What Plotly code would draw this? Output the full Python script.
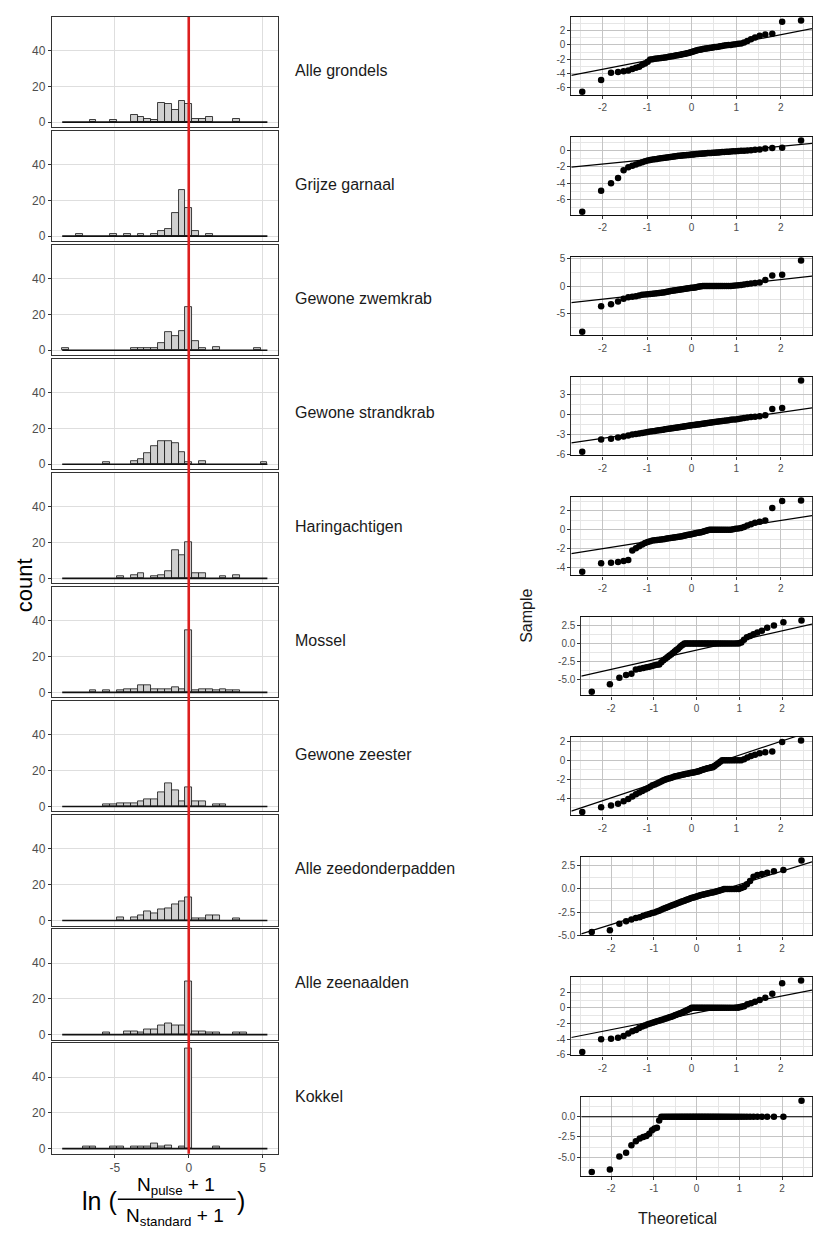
import numpy as np
import plotly.graph_objects as go
from statistics import NormalDist

# ---------------- data (ln((N_pulse+1)/(N_standard+1)) per haul) -------------
species = ["Alle grondels", "Grijze garnaal", "Gewone zwemkrab", "Gewone strandkrab",
           "Haringachtigen", "Mossel", "Gewone zeester", "Alle zeedonderpadden",
           "Alle zeenaalden", "Kokkel"]

grondels = [-6.58, -4.93, -3.9, -3.8, -3.7, -3.6, -3.4, -3.2, -3.05, -2.8, -2.6, -2.35,
            -2.05, -2.0, -1.96, -1.92, -1.88, -1.84, -1.8, -1.76, -1.72, -1.68, -1.64,
            -1.6, -1.55, -1.5, -1.46, -1.42, -1.37, -1.32, -1.28, -1.23, -1.18,
            -1.12, -1.05, -0.98, -0.92, -0.85, -0.78, -0.72,
            -0.67, -0.63, -0.59, -0.55, -0.51, -0.47, -0.43, -0.39, -0.35, -0.31, -0.28, -0.25,
            -0.2, -0.15, -0.1, -0.05, 0.0, 0.0, 0.05, 0.1, 0.15, 0.2,
            0.35, 0.55, 0.8, 1.05, 1.3, 1.45, 1.55, 3.25, 3.43]

garnaal = [-7.52, -4.92, -4.0, -3.35, -2.4,
           -2.05, -1.85, -1.7,
           -1.55, -1.42, -1.3, -1.2,
           -1.14, -1.1, -1.06, -1.02, -0.98, -0.94, -0.9, -0.87, -0.83, -0.8, -0.77, -0.74, -0.71,
           -0.68, -0.66, -0.64, -0.62, -0.6, -0.58, -0.56, -0.54, -0.52, -0.5, -0.48, -0.46, -0.44,
           -0.42, -0.41, -0.39, -0.37, -0.35, -0.34, -0.32, -0.3, -0.29, -0.28, -0.27, -0.25, -0.24,
           -0.22, -0.2, -0.18, -0.16, -0.14, -0.12, -0.1, -0.08, -0.06, -0.04, -0.02, 0.0, 0.02,
           0.06, 0.1, 0.15,
           0.28, 0.32, 0.35, 1.25]

zwemkrab = ([-8.33, -3.7, -3.3, -2.8, -2.3,
             -2.05, -1.95, -1.85, -1.7,
             -1.6, -1.55, -1.5, -1.45, -1.4, -1.35, -1.3, -1.26, -1.22, -1.18,
             -1.12, -1.05, -0.98, -0.92, -0.86, -0.8, -0.75, -0.71,
             -0.67, -0.62, -0.57, -0.53, -0.49, -0.45, -0.41, -0.37, -0.33, -0.29, -0.25,
             -0.2, -0.15, -0.1, -0.05]
            + [0.0] * 16
            + [0.05, 0.1, 0.15, 0.2, 0.28, 0.35, 0.45, 0.55, 0.65, 1.1, 1.9, 2.05, 4.65])

strandkrab = [-5.55, -3.7, -3.6, -3.4, -3.25, -3.1,
              -2.98, -2.9, -2.82, -2.74, -2.66, -2.58,
              -2.52, -2.48, -2.43, -2.38, -2.34, -2.29, -2.24, -2.19, -2.14, -2.1,
              -2.06, -2.02, -1.99, -1.95, -1.92, -1.88, -1.85, -1.81, -1.78, -1.74, -1.71, -1.67, -1.64,
              -1.6, -1.56, -1.53, -1.49, -1.46, -1.42, -1.39, -1.35, -1.32, -1.28, -1.25, -1.21, -1.18,
              -1.14, -1.1, -1.06, -1.02, -0.98, -0.94, -0.9, -0.86, -0.82, -0.78, -0.74, -0.71,
              -0.65, -0.58, -0.5, -0.43, -0.36, -0.3, -0.25,
              -0.1, 0.85, 1.0, 5.09]

haring = ([-4.45, -3.55, -3.5, -3.4, -3.3, -3.2, -2.2, -1.95, -1.75, -1.55, -1.4, -1.3, -1.2,
           -1.14, -1.11, -1.08, -1.05, -1.02, -0.99, -0.96, -0.93, -0.9, -0.87, -0.84, -0.81,
           -0.79, -0.76, -0.74, -0.71,
           -0.67, -0.63, -0.6, -0.56, -0.53, -0.49, -0.46, -0.42, -0.39, -0.35, -0.32, -0.28, -0.25,
           -0.2, -0.15, -0.1, -0.05]
          + [0.0] * 12
          + [0.05, 0.1, 0.15, 0.2, 0.3, 0.45, 0.6, 0.75, 0.85, 1.0, 2.3, 3.05, 3.1])

mossel = ([-6.7, -5.65, -4.75, -4.35, -4.2, -3.6, -3.5, -3.4, -3.3, -3.2, -3.1, -3.0, -2.95,
           -2.9, -2.6, -2.3, -2.1, -1.9, -1.7, -1.5, -1.3, -1.1, -0.9, -0.75, -0.5, -0.3, -0.15]
          + [0.0] * 33
          + [0.15, 0.55, 0.9, 1.05, 1.3, 1.55, 1.8, 2.2, 2.5, 2.95, 3.2])

zeester = ([-5.47, -4.98, -4.8, -4.6, -4.35, -4.1, -3.85, -3.6, -3.4, -3.25, -3.1, -2.95, -2.8,
            -2.65, -2.56, -2.45, -2.35, -2.25, -2.15,
            -2.05, -1.99, -1.93, -1.87, -1.81, -1.75, -1.7, -1.65,
            -1.6, -1.57, -1.53, -1.5, -1.46, -1.43, -1.39, -1.35, -1.32, -1.28, -1.25, -1.21, -1.18,
            -1.12, -1.06, -1.0, -0.95, -0.9, -0.85, -0.8, -0.76, -0.72,
            -0.6, -0.45, -0.3, -0.15]
           + [0.0] * 9
           + [0.12, 0.3, 0.45, 0.6, 0.75, 0.85, 0.95, 1.95, 2.1])

zeedonderpadden = ([-4.64, -4.45, -3.75, -3.5, -3.3, -3.15, -3.05, -2.9, -2.8, -2.7, -2.6, -2.56,
                    -2.45, -2.35, -2.25, -2.15,
                    -2.05, -1.98, -1.9, -1.82, -1.75, -1.68,
                    -1.6, -1.53, -1.47, -1.4, -1.33, -1.27, -1.2,
                    -1.14, -1.08, -1.02, -0.97, -0.92, -0.87, -0.82, -0.77, -0.72,
                    -0.67, -0.63, -0.59, -0.55, -0.51, -0.47, -0.43, -0.39, -0.35, -0.3, -0.25,
                    -0.2, -0.15, -0.1]
                   + [0.0] * 8
                   + [0.1, 0.2, 0.5, 0.85, 1.3, 1.5, 1.6, 1.75, 1.9, 2.05, 3.05])

zeenaalden = ([-5.66, -4.04, -3.96, -3.83, -3.6, -3.3, -3.0, -2.85, -2.6, -2.4, -2.25, -2.1,
               -2.0, -1.9, -1.8, -1.72, -1.64,
               -1.56, -1.48, -1.4, -1.32, -1.25, -1.18,
               -1.1, -1.0, -0.92, -0.84, -0.76,
               -0.68, -0.6, -0.5, -0.4, -0.3,
               -0.2, -0.1]
              + [0.0] * 26
              + [0.1, 0.2, 0.45, 0.6, 0.8, 1.0, 1.3, 1.8, 3.15, 3.5])

kokkel = ([-6.84, -6.54, -4.92, -4.46, -3.54, -3.04, -2.7, -2.5, -2.38, -2.1, -1.67, -1.46,
           -1.35, -0.45]
          + [0.0] * 56
          + [2.0])

samples = [grondels, garnaal, zwemkrab, strandkrab, haring,
           mossel, zeester, zeedonderpadden, zeenaalden, kokkel]

# tick labels
hist_xticks = [-5, 0, 5]
hist_yticks = [0, 20, 40]
qq_xticks = [-2, -1, 0, 1, 2]
qq_yticks = [[-6, -4, -2, 0, 2], [-6, -4, -2, 0], [-5, 0, 5], [-6, -3, 0, 3], [-4, -2, 0, 2],
             [-5, -2.5, 0, 2.5], [-4, -2, 0, 2], [-5, -2.5, 0, 2.5], [-6, -4, -2, 0, 2],
             [-5, -2.5, 0]]
qq_ylabels = [["-6", "-4", "-2", "0", "2"], ["-6", "-4", "-2", "0"], ["-5", "0", "5"],
              ["-6", "-3", "0", "3"], ["-4", "-2", "0", "2"], ["-5.0", "-2.5", "0.0", "2.5"],
              ["-4", "-2", "0", "2"], ["-5.0", "-2.5", "0.0", "2.5"], ["-6", "-4", "-2", "0", "2"],
              ["-5.0", "-2.5", "0.0"]]

# ---------------- layout helpers -------------
W, H = 813, 1236
FONT = "Liberation Sans, Arial, Helvetica, sans-serif"
TICKGREY = "#4d4d4d"


def px(x):
    return x / W


def py(y):
    return 1 - y / H


def ref(prefix, n):
    return prefix if n == 1 else f"{prefix}{n}"


def key(prefix, n):
    return prefix if n == 1 else f"{prefix}{n}"


# histogram bins like ggplot's default (30 bins spanning the shared data range)
allv = np.concatenate([np.asarray(s, float) for s in samples])
lo, hi = float(allv.min()), float(allv.max())
bw = (hi - lo) / 29
bstart, bend = lo - bw / 2, hi + bw / 2
edges = bstart + bw * np.arange(31)
cmax = max(np.histogram(np.asarray(s, float), bins=edges)[0].max() for s in samples)
xpad = 0.05 * (bend - bstart)
hist_xrange = [bstart - xpad, bend + xpad]
hist_yrange = [-0.05 * cmax, 1.05 * cmax]

fig = go.Figure()
layout = dict(width=W, height=H, margin=dict(l=0, r=0, t=0, b=0),
              paper_bgcolor="white", plot_bgcolor="white", showlegend=False,
              bargap=0, font=dict(family=FONT, color="#1a1a1a"))
annotations = []
shapes = []

H_TOP0, H_PITCH, H_HEIGHT = 13, 114.9, 111
Q_TOP0, Q_PITCH, Q_HEIGHT = 13, 120.9, 79
qq_left = [572, 572, 572, 572, 572, 582, 572, 582, 572, 582]

nd = NormalDist()

for j, (name, vals) in enumerate(zip(species, samples)):
    vals = np.asarray(vals, float)
    # ---------- histogram panel ----------
    n = j + 1
    top = H_TOP0 + H_PITCH * j
    bot = top + H_HEIGHT
    fig.add_trace(go.Histogram(
        x=vals, xbins=dict(start=bstart, end=bend, size=bw), autobinx=False,
        marker=dict(color="#d0d0d0", line=dict(color="#111111", width=0.8)),
        xaxis=ref("x", n), yaxis=ref("y", n), hoverinfo="skip"))
    fig.add_trace(go.Scatter(
        x=[bstart, bend], y=[0, 0], mode="lines", line=dict(color="#111111", width=1.6),
        xaxis=ref("x", n), yaxis=ref("y", n), hoverinfo="skip"))
    layout[key("xaxis", n)] = dict(
        domain=[px(52), px(278)], range=hist_xrange, anchor=ref("y", n),
        tickmode="array", tickvals=hist_xticks, ticktext=[str(t) for t in hist_xticks],
        showticklabels=(j == 9), ticks="outside" if j == 9 else "", ticklen=3,
        tickcolor="#333333", tickfont=dict(size=12, color=TICKGREY),
        showgrid=True, gridcolor="#dedede", gridwidth=1, zeroline=False,
        showline=True, mirror=True, linecolor="#333333", linewidth=1.2)
    layout[key("yaxis", n)] = dict(
        domain=[py(bot), py(top)], range=hist_yrange, anchor=ref("x", n),
        tickmode="array", tickvals=hist_yticks, ticktext=[str(t) for t in hist_yticks],
        ticks="outside", ticklen=3, tickcolor="#333333", tickfont=dict(size=12, color=TICKGREY),
        showgrid=True, gridcolor="#dedede", gridwidth=1, zeroline=False,
        showline=True, mirror=True, linecolor="#333333", linewidth=1.2)
    annotations.append(dict(text=name, x=px(293), y=py((top + bot) / 2 - 2), xref="paper",
                            yref="paper", xanchor="left", yanchor="middle", showarrow=False,
                            font=dict(size=16, color="#1a1a1a")))

    # ---------- QQ panel ----------
    m = 11 + j
    s = np.sort(vals)
    nn = len(s)
    theo = np.array([nd.inv_cdf((i - 0.5) / nn) for i in range(1, nn + 1)])
    q1s, q3s = np.quantile(s, [0.25, 0.75])
    q1t, q3t = nd.inv_cdf(0.25), nd.inv_cdf(0.75)
    slope = (q3s - q1s) / (q3t - q1t)
    icpt = q1s - slope * q1t
    tpad = 0.05 * (theo.max() - theo.min())
    qx = [theo.min() - tpad, theo.max() + tpad]
    spad = 0.05 * (s.max() - s.min())
    qy = [s.min() - spad, s.max() + spad]
    fig.add_trace(go.Scatter(x=theo, y=s, mode="markers",
                             marker=dict(color="black", size=6.5, line=dict(width=0)),
                             xaxis=ref("x", m), yaxis=ref("y", m), hoverinfo="skip"))
    fig.add_trace(go.Scatter(x=qx, y=[icpt + slope * qx[0], icpt + slope * qx[1]], mode="lines",
                             line=dict(color="black", width=1.2),
                             xaxis=ref("x", m), yaxis=ref("y", m), hoverinfo="skip"))
    qtop = Q_TOP0 + Q_PITCH * j
    qbot = qtop + Q_HEIGHT
    yt = qq_yticks[j]
    step = yt[1] - yt[0]
    yminor = [v - step / 2 for v in yt] + [yt[-1] + step / 2]
    layout[key("xaxis", m)] = dict(
        domain=[px(qq_left[j]), 1.0], range=qx, anchor=ref("y", m),
        tickmode="array", tickvals=qq_xticks, ticktext=[str(t) for t in qq_xticks],
        ticks="outside", ticklen=3, tickcolor="#333333", tickfont=dict(size=10, color=TICKGREY),
        showgrid=True, gridcolor="#c4c4c4", gridwidth=1, zeroline=False,
        minor=dict(tickmode="array", tickvals=[-2.5, -1.5, -0.5, 0.5, 1.5, 2.5],
                   showgrid=True, gridcolor="#e6e6e6", gridwidth=1, ticks=""),
        showline=True, mirror=True, linecolor="#111111", linewidth=1.3)
    layout[key("yaxis", m)] = dict(
        domain=[py(qbot), py(qtop)], range=qy, anchor=ref("x", m),
        tickmode="array", tickvals=yt, ticktext=qq_ylabels[j],
        ticks="outside", ticklen=3, tickcolor="#333333", tickfont=dict(size=10, color=TICKGREY),
        showgrid=True, gridcolor="#c4c4c4", gridwidth=1, zeroline=False,
        minor=dict(tickmode="array", tickvals=yminor, showgrid=True, gridcolor="#e6e6e6",
                   gridwidth=1, ticks=""),
        showline=True, mirror=True, linecolor="#333333", linewidth=1.0)

# red reference line at 0 through all histogram panels
hist_top = H_TOP0
hist_bot = H_TOP0 + H_PITCH * 9 + H_HEIGHT
shapes.append(dict(type="line", xref="x", yref="paper", x0=0, x1=0,
                   y0=py(hist_bot), y1=py(hist_top),
                   line=dict(color="#dc1f1f", width=2.6), layer="above"))

# axis titles
annotations.append(dict(text="count", x=px(24), y=py((hist_top + hist_bot) / 2), xref="paper",
                        yref="paper", xanchor="center", yanchor="middle", textangle=-90,
                        showarrow=False, font=dict(size=22, color="black")))
annotations.append(dict(text="Sample", x=px(527), y=py(616), xref="paper", yref="paper",
                        xanchor="center", yanchor="middle", textangle=-90, showarrow=False,
                        font=dict(size=16, color="#1a1a1a")))
annotations.append(dict(text="Theoretical", x=px(678), y=py(1223), xref="paper", yref="paper",
                        xanchor="center", yanchor="middle", showarrow=False,
                        font=dict(size=16, color="#1a1a1a")))

# x-axis title: ln((N_pulse + 1)/(N_standard + 1))
annotations.append(dict(text="ln (", x=px(119), y=py(1206), xref="paper", yref="paper",
                        xanchor="right", yanchor="middle", showarrow=False,
                        font=dict(size=25, color="black")))
annotations.append(dict(text="N<sub>pulse</sub> + 1", x=px(176), y=py(1191), xref="paper",
                        yref="paper", xanchor="center", yanchor="middle", showarrow=False,
                        font=dict(size=19, color="black")))
annotations.append(dict(text="N<sub>standard</sub> + 1", x=px(175), y=py(1222), xref="paper",
                        yref="paper", xanchor="center", yanchor="middle", showarrow=False,
                        font=dict(size=19, color="black")))
annotations.append(dict(text=")", x=px(235), y=py(1206), xref="paper", yref="paper",
                        xanchor="left", yanchor="middle", showarrow=False,
                        font=dict(size=25, color="black")))
shapes.append(dict(type="line", xref="paper", yref="paper", x0=px(118), x1=px(236),
                   y0=py(1204), y1=py(1204), line=dict(color="black", width=1.3)))

layout["annotations"] = annotations
layout["shapes"] = shapes
fig.update_layout(**layout)
fig.write_html("out.html")
